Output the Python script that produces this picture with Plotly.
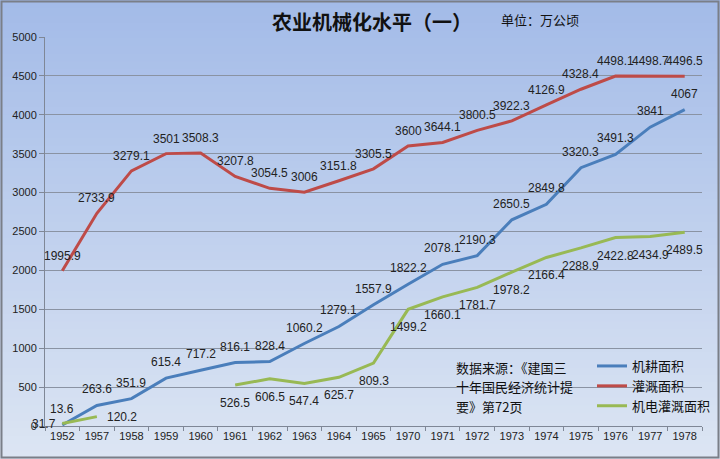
import plotly.graph_objects as go

years = ["1952", "1957", "1958", "1959", "1960", "1961", "1962", "1963", "1964", "1965",
         "1970", "1971", "1972", "1973", "1974", "1975", "1976", "1977", "1978"]
jigeng = [13.6, 263.6, 351.9, 615.4, 717.2, 816.1, 828.4, 1060.2, 1279.1, 1557.9,
          1822.2, 2078.1, 2190.3, 2650.5, 2849.8, 3320.3, 3491.3, 3841, 4067]
guangai = [1995.9, 2733.9, 3279.1, 3501, 3508.3, 3207.8, 3054.5, 3006, 3151.8, 3305.5,
           3600, 3644.1, 3800.5, 3922.3, 4126.9, 4328.4, 4498.1, 4498.7, 4496.5]
jidian = [31.7, 120.2, None, None, None, 526.5, 606.5, 547.4, 625.7, 809.3,
          1499.2, 1660.1, 1781.7, 1978.2, 2166.4, 2288.9, 2422.8, 2434.9, 2489.5]
names = ["机耕面积", "灌溉面积", "机电灌溉面积"]
title_text = "农业机械化水平（一）"
unit_text = "单位：万公顷"
source_lines = ["数据来源：《建国三", "十年国民经济统计提", "要》第72页"]

W, H = 720, 459
L, R, T, B = 45, 18, 37, 33
PW, PH = W - L - R, H - T - B


def px(x):
    return (x - L) / PW


def py(y):
    return (H - B - y) / PH


FONT = "Liberation Sans, Arial, Noto Sans CJK SC, sans-serif"
CJK = "Noto Sans CJK SC, sans-serif"
LBL = dict(size=12, color="#222222", family=FONT)

fig = go.Figure()
fig.add_trace(go.Scatter(x=years, y=jigeng, name=names[0], mode="lines",
                         line=dict(color="#4A7EBB", width=3)))
fig.add_trace(go.Scatter(x=years, y=guangai, name=names[1], mode="lines",
                         line=dict(color="#BE4B48", width=3)))
fig.add_trace(go.Scatter(x=years, y=jidian, name=names[2], mode="lines",
                         line=dict(color="#98B954", width=3), connectgaps=False))

# data labels (category index positions on the category axis)
annotations = []
for i, v in enumerate(jigeng):
    annotations.append(dict(x=i, y=v, xref="x", yref="y", text=f"{v:g}", showarrow=False,
                            yshift=16, xanchor="center", yanchor="middle", font=LBL))
for i, v in enumerate(guangai):
    annotations.append(dict(x=i, y=v, xref="x", yref="y", text=f"{v:g}", showarrow=False,
                            yshift=15, xanchor="center", yanchor="middle", font=LBL))
for i, v in enumerate(jidian):
    if v is None:
        continue
    if i == 0:
        annotations.append(dict(x=i, y=v, xref="x", yref="y", text=f"{v:g}", showarrow=False,
                                xshift=-4, xanchor="right", yanchor="middle", font=LBL))
    elif i == 1:
        annotations.append(dict(x=i, y=v, xref="x", yref="y", text=f"{v:g}", showarrow=False,
                                xshift=8, xanchor="left", yanchor="middle", font=LBL))
    else:
        annotations.append(dict(x=i, y=v, xref="x", yref="y", text=f"{v:g}", showarrow=False,
                                yshift=-18, xanchor="center", yanchor="middle", font=LBL))

# gradient background
shapes = []
n = 60
c0 = (163, 187, 232)
c1 = (220, 229, 243)
for i in range(n):
    f = i / (n - 1)
    c = tuple(int(round(c0[k] + (c1[k] - c0[k]) * f)) for k in range(3))
    y0 = H * i / n
    y1 = H * (i + 1) / n + 1
    shapes.append(dict(type="rect", xref="paper", yref="paper",
                       x0=px(0), x1=px(W), y0=py(y1), y1=py(y0),
                       fillcolor=f"rgb{c}", line=dict(width=0), layer="below"))
shapes.append(dict(type="rect", xref="paper", yref="paper",
                   x0=px(1.5), x1=px(W - 1.5), y0=py(H - 1.5), y1=py(1.5),
                   line=dict(color="#7A7F88", width=2), fillcolor="rgba(0,0,0,0)", layer="above"))

annotations += [
    dict(text="<b>" + title_text + "</b>", xref="paper", yref="paper", x=px(372), y=py(21),
         showarrow=False, font=dict(size=20, color="#111111", family=CJK),
         xanchor="center", yanchor="middle"),
    dict(text=unit_text, xref="paper", yref="paper", x=px(540), y=py(20),
         showarrow=False, font=dict(size=13, color="#111111", family=CJK),
         xanchor="center", yanchor="middle"),
]
for i, s in enumerate(source_lines):
    annotations.append(dict(text=s, xref="paper", yref="paper", x=px(454), y=py(367 + 19.5 * i),
                            showarrow=False, font=dict(size=13, color="#111111", family=CJK),
                            xanchor="left", yanchor="middle"))

fig.update_layout(
    width=W, height=H,
    margin=dict(l=L, r=R, t=T, b=B, autoexpand=False),
    paper_bgcolor="#DCE5F3",
    plot_bgcolor="rgba(0,0,0,0)",
    shapes=shapes,
    annotations=annotations,
    showlegend=True,
    legend=dict(x=px(592), y=py(351), xanchor="left", yanchor="top",
                bgcolor="rgba(0,0,0,0)", font=dict(size=13, color="#111111", family=CJK),
                tracegroupgap=0, itemwidth=30),
    xaxis=dict(type="category", range=[-0.5, 18.5], tickson="boundaries",
               ticks="outside", ticklen=4, tickcolor="#7F8796", tickangle=0,
               showgrid=False, showline=True, linecolor="#7F8796", linewidth=1,
               automargin=False,
               tickfont=dict(size=11, color="#222222", family=FONT)),
    yaxis=dict(range=[0, 5000], dtick=500, ticks="outside", ticklen=5, tickcolor="#7F8796",
               showgrid=True, gridcolor="#8A93A3", gridwidth=1, automargin=False,
               showline=True, linecolor="#7F8796", linewidth=1, zeroline=False,
               tickfont=dict(size=11, color="#222222", family=FONT)),
    font=dict(family=FONT),
)

fig.write_html("out.html", config={"displayModeBar": False},
               post_script="document.body.style.margin='0';document.body.style.overflow='hidden';")
